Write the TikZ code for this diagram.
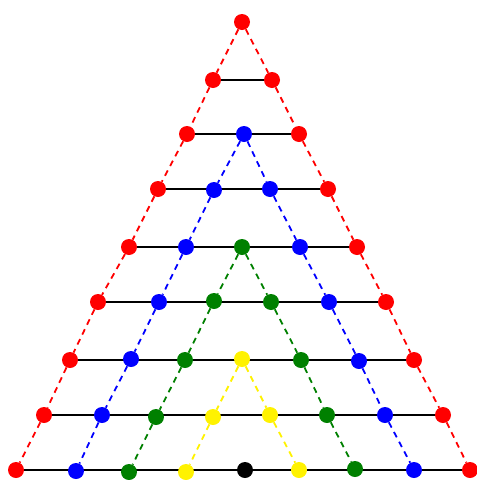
\documentclass[tikz,border=0pt]{standalone}
\usetikzlibrary{backgrounds}
\definecolor{dgreen}{RGB}{0,128,0}
\begin{document}
\begin{tikzpicture}[x=1pt,y=-1pt,
  dot/.style={circle,inner sep=0pt,minimum size=16pt,draw=none},
  R/.style={dot,fill=red},
  B/.style={dot,fill=blue},
  G/.style={dot,fill=dgreen},
  Y/.style={dot,fill=yellow},
  K/.style={dot,fill=black},
  hl/.style={draw=black,line width=2pt},
  dl/.style={line width=1.8pt,dash pattern=on 6pt off 5pt}]
\useasboundingbox (0,0) rectangle (477,480);
% row 0
\node[R] (n00) at (242,22) {};
% row 1
\node[R] (n10) at (213,80) {};
\node[R] (n11) at (272,80) {};
% row 2
\node[R] (n20) at (187,134) {};
\node[B] (n21) at (244,134) {};
\node[R] (n22) at (299,134) {};
% row 3
\node[R] (n30) at (158,189) {};
\node[B] (n31) at (214,190) {};
\node[B] (n32) at (270,189) {};
\node[R] (n33) at (328,189) {};
% row 4
\node[R] (n40) at (129,247) {};
\node[B] (n41) at (186,247) {};
\node[G] (n42) at (242,247) {};
\node[B] (n43) at (300,247) {};
\node[R] (n44) at (357,247) {};
% row 5
\node[R] (n50) at (98,302) {};
\node[B] (n51) at (159,302) {};
\node[G] (n52) at (214,301) {};
\node[G] (n53) at (271,302) {};
\node[B] (n54) at (329,302) {};
\node[R] (n55) at (386,302) {};
% row 6
\node[R] (n60) at (70,360) {};
\node[B] (n61) at (131,359) {};
\node[G] (n62) at (185,360) {};
\node[Y] (n63) at (242,359) {};
\node[G] (n64) at (301,360) {};
\node[B] (n65) at (359,361) {};
\node[R] (n66) at (414,360) {};
% row 7
\node[R] (n70) at (44,415) {};
\node[B] (n71) at (102,415) {};
\node[G] (n72) at (156,417) {};
\node[Y] (n73) at (213,417) {};
\node[Y] (n74) at (270,415) {};
\node[G] (n75) at (327,415) {};
\node[B] (n76) at (385,415) {};
\node[R] (n77) at (443,415) {};
% row 8
\node[R] (n80) at (16,470) {};
\node[B] (n81) at (76,471) {};
\node[G] (n82) at (129,472) {};
\node[Y] (n83) at (186,472) {};
\node[K] (n84) at (245,470) {};
\node[Y] (n85) at (299,470) {};
\node[G] (n86) at (355,469) {};
\node[B] (n87) at (414,470) {};
\node[R] (n88) at (470,470) {};
\begin{pgfonlayer}{background}
% horizontal rows: straight lines from the first to the last dot of each row
\foreach \a/\b in {n10/n11,n20/n22,n30/n33,n40/n44,n50/n55,n60/n66,n70/n77,n80/n88}
  \draw[hl] (\a.center) -- (\b.center);
% red
\foreach \a/\b in {n00/n10,n10/n20,n20/n30,n30/n40,n40/n50,n50/n60,n60/n70,n70/n80,
                   n00/n11,n11/n22,n22/n33,n33/n44,n44/n55,n55/n66,n66/n77,n77/n88}
  \draw[dl,red] (\a) -- (\b);
% blue
\foreach \a/\b in {n21/n31,n31/n41,n41/n51,n51/n61,n61/n71,n71/n81,
                   n21/n32,n32/n43,n43/n54,n54/n65,n65/n76,n76/n87}
  \draw[dl,blue] (\a) -- (\b);
% green
\foreach \a/\b in {n42/n52,n52/n62,n62/n72,n72/n82,
                   n42/n53,n53/n64,n64/n75,n75/n86}
  \draw[dl,dgreen] (\a) -- (\b);
% yellow
\foreach \a/\b in {n63/n73,n73/n83,n63/n74,n74/n85}
  \draw[dl,yellow] (\a) -- (\b);
\end{pgfonlayer}
\end{tikzpicture}
\end{document}
